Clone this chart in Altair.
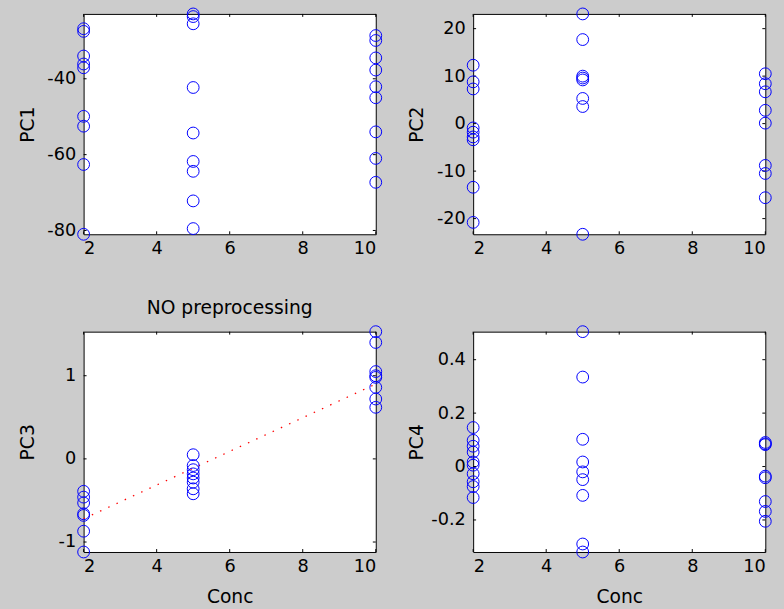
import altair as alt
import pandas as pd

# Concentration levels and principal-component scores per level
conc_levels = [2, 5, 10]

pc1_c2 = [-26.8, -27.5, -34.0, -36.1, -37.1, -49.9, -52.5, -62.6, -81.0]
pc1_c5 = [-22.9, -23.6, -25.5, -42.3, -54.3, -61.8, -64.4, -72.2, -79.5]
pc1_c10 = [-28.6, -29.9, -34.5, -37.7, -42.1, -45.0, -54.0, -61.0, -67.3]

pc2_c2 = [12.3, 8.8, 7.3, -0.9, -1.8, -2.8, -3.4, -13.4, -20.8]
pc2_c5 = [23.1, 17.7, 10.0, 9.6, 9.2, 5.3, 3.6, -23.3]
pc2_c10 = [10.5, 8.4, 6.7, 2.8, 0.1, -8.8, -10.5, -15.6]

pc3_c2 = [-0.39, -0.46, -0.53, -0.66, -0.68, -0.87, -1.12]
pc3_c5 = [0.05, -0.08, -0.13, -0.18, -0.23, -0.28, -0.36, -0.42]
pc3_c10 = [1.53, 1.40, 1.05, 1.00, 0.98, 0.86, 0.72, 0.62]

pc4_c2 = [0.146, 0.098, 0.076, 0.054, 0.017, 0.005, -0.027, -0.057, -0.075, -0.116]
pc4_c5 = [0.505, 0.335, 0.102, 0.017, -0.020, -0.049, -0.108, -0.29, -0.32]
pc4_c10 = [0.090, 0.085, 0.082, -0.036, -0.042, -0.131, -0.168, -0.205]

# Least-squares line of PC3 against concentration (end points)
fit_conc = [2, 10]
fit_pc3 = [-0.72, 0.90]

# Tick values
x_ticks = [2, 4, 6, 8, 10]
pc1_ticks = [-80, -60, -40]
pc2_ticks = [-20, -10, 0, 10, 20]
pc3_ticks = [-1, 0, 1]
pc4_ticks = [-0.2, 0, 0.2, 0.4]

W, H = 297, 224
TICK = 3
FONT = "DejaVu Sans"
LABEL_EXPR = "'' + datum.value"


def panel(name, groups, yticks, x_title=False, title=None, extra=None):
    rows = []
    for c, vals in zip(conc_levels, groups):
        rows += [{"Conc": c, name: v} for v in vals]
    df = pd.DataFrame(rows)
    ymin, ymax = float(df[name].min()), float(df[name].max())
    xs = alt.Scale(domain=[2, 10], nice=False, zero=False)
    ys = alt.Scale(domain=[ymin, ymax], nice=False, zero=False)

    x_axis = alt.Axis(values=x_ticks, labelExpr=LABEL_EXPR,
                      titleY=51, titleBaseline="alphabetic", titleFontSize=19)
    y_axis = alt.Axis(values=yticks, labelExpr=LABEL_EXPR,
                      titleX=-51, titleBaseline="alphabetic", titleFontSize=19)

    def xenc():
        return alt.X("Conc:Q", scale=xs, axis=x_axis,
                     title="Conc" if x_title else None)

    def yenc():
        return alt.Y(f"{name}:Q", scale=ys, axis=y_axis, title=name)

    points = alt.Chart(df).mark_point(
        shape="circle", filled=False, color="#0000ff", size=144,
        strokeWidth=1, opacity=1
    ).encode(x=xenc(), y=yenc())

    xt = pd.DataFrame({"Conc": x_ticks})
    yt = pd.DataFrame({name: yticks})
    tick_rule = dict(color="black", strokeWidth=1)
    bottom = alt.Chart(xt).mark_rule(**tick_rule).encode(
        x=xenc(), y=alt.value(H), y2=alt.value(H - TICK))
    top = alt.Chart(xt).mark_rule(**tick_rule).encode(
        x=xenc(), y=alt.value(0), y2=alt.value(TICK))
    left = alt.Chart(yt).mark_rule(**tick_rule).encode(
        y=yenc(), x=alt.value(0), x2=alt.value(TICK))
    right = alt.Chart(yt).mark_rule(**tick_rule).encode(
        y=yenc(), x=alt.value(W), x2=alt.value(W - TICK))

    layers = [bottom, top, left, right]
    if extra is not None:
        layers.append(extra(xenc(), yenc()))
    layers.append(points)
    props = dict(width=W, height=H)
    if title:
        props["title"] = alt.Title(
            title, frame="group", offset=-9, baseline="alphabetic",
            anchor="middle", font=FONT, fontSize=19, fontWeight="normal",
            color="black")
    return alt.layer(*layers).properties(**props)


def fit_line(xe, ye):
    fit_df = pd.DataFrame({"Conc": fit_conc, "PC3": fit_pc3})
    return alt.Chart(fit_df).mark_line(
        color="#ff0000", strokeDash=[1.5, 7.7], strokeWidth=1.3
    ).encode(x=xe, y=ye)


p1 = panel("PC1", [pc1_c2, pc1_c5, pc1_c10], pc1_ticks)
p2 = panel("PC2", [pc2_c2, pc2_c5, pc2_c10], pc2_ticks)
p3 = panel("PC3", [pc3_c2, pc3_c5, pc3_c10], pc3_ticks, x_title=True,
           title="NO preprocessing", extra=fit_line)
p4 = panel("PC4", [pc4_c2, pc4_c5, pc4_c10], pc4_ticks, x_title=True)

chart = alt.concat(
    p1, p2, p3, p4, columns=2,
    spacing={"row": 99, "column": 99}, bounds="flush"
).configure(
    background="#cccccc",
    padding={"left": 18, "top": 0, "right": 10, "bottom": 10},
).configure_view(
    fill="white", stroke="black", strokeWidth=1
).configure_axis(
    labelFont=FONT, labelFontSize=18, labelColor="black",
    titleFont=FONT, titleColor="black", titleFontWeight="normal",
    domain=False, ticks=False, grid=False,
).configure_axisX(labelPadding=6).configure_axisY(labelPadding=8)

chart.save("out.html", embed_options={"renderer": "svg", "actions": False})
